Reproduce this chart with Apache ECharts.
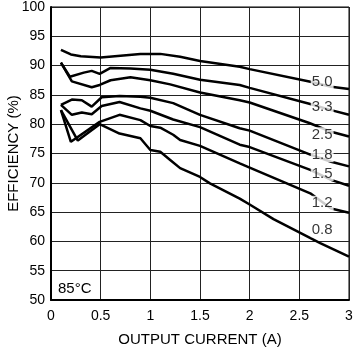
<!DOCTYPE html>
<html>
<head>
<meta charset="utf-8">
<style>
  html, body { margin: 0; padding: 0; background: #fff; }
  #chart { width: 355px; height: 353px; }
</style>
<script src="https://cdn.jsdelivr.net/npm/echarts@6/dist/echarts.min.js"></script>
</head>
<body>
<div id="chart"></div>
<script>
// efficiency vs output current, 85°C, one curve per output voltage
var outputVoltages = ['5.0', '3.3', '2.5', '1.8', '1.5', '1.2', '0.8'];

var eff5v0 = [[0.1, 92.7], [0.2, 91.9], [0.3, 91.6], [0.5, 91.4], [0.7, 91.7], [0.9, 92.0], [1.1, 92.0],
  [1.3, 91.5], [1.5, 90.8], [1.9, 89.8], [2.0, 89.4], [2.6, 87.3], [2.82, 86.4], [3.0, 86.0]];
var eff3v3 = [[0.1, 90.5], [0.19, 88.1], [0.33, 88.8], [0.41, 89.1], [0.49, 88.6], [0.6, 89.6], [0.8, 89.5],
  [1.0, 89.3], [1.23, 88.6], [1.5, 87.6], [1.9, 86.7], [2.0, 86.2], [2.6, 83.5], [2.82, 82.4], [3.0, 81.6]];
var eff2v5 = [[0.1, 90.5], [0.21, 87.3], [0.41, 86.3], [0.49, 86.7], [0.6, 87.5], [0.8, 88.0], [1.0, 87.5],
  [1.2, 86.8], [1.5, 85.4], [1.9, 84.1], [2.0, 83.7], [2.6, 80.2], [2.82, 78.7], [3.0, 77.9]];
var eff1v8 = [[0.1, 83.3], [0.21, 84.2], [0.31, 84.1], [0.41, 83.0], [0.51, 84.6], [0.69, 84.8], [0.9, 84.7],
  [1.0, 84.5], [1.23, 83.6], [1.5, 81.6], [1.9, 79.3], [2.0, 78.9], [2.61, 74.8], [2.82, 73.6], [3.0, 72.8]];
var eff1v5 = [[0.1, 83.3], [0.21, 81.6], [0.31, 82.0], [0.41, 81.7], [0.51, 83.1], [0.69, 83.8], [0.9, 82.7],
  [1.0, 82.3], [1.23, 80.8], [1.5, 79.5], [1.9, 76.5], [2.0, 76.1], [2.61, 72.2], [2.82, 70.5], [3.0, 69.5]];
var eff1v2 = [[0.1, 82.4], [0.2, 77.0], [0.49, 80.4], [0.69, 81.6], [0.9, 80.7], [1.0, 79.7], [1.1, 79.4],
  [1.23, 78.2], [1.3, 77.3], [1.5, 76.3], [1.9, 73.3], [2.0, 72.6], [2.61, 68.2], [2.82, 65.6], [3.0, 64.9]];
var eff0v8 = [[0.1, 82.4], [0.27, 77.2], [0.49, 80.0], [0.69, 78.4], [0.9, 77.6], [1.0, 75.6], [1.1, 75.3],
  [1.2, 73.9], [1.3, 72.5], [1.5, 71.0], [1.6, 69.9], [1.9, 67.3], [2.0, 66.3], [2.24, 63.8], [2.71, 59.7], [3.0, 57.4]];

var curves = [eff5v0, eff3v3, eff2v5, eff1v8, eff1v5, eff1v2, eff0v8];

// where each voltage tag sits on the plot (data units)
var labelCurrent = 2.73;
var labelEff = [87.25, 83.0, 78.2, 74.8, 71.6, 66.5, 62.0];

var xTicks = [0, 0.5, 1, 1.5, 2, 2.5, 3];
var tempNote = '85°C';

var font = '"Liberation Sans", Arial, Helvetica, sans-serif';
var ink = '#000';

var chart = echarts.init(document.getElementById('chart'), null, { renderer: 'canvas' });

var series = curves.map(function(d, i) {
  return {
    name: outputVoltages[i],
    type: 'line',
    data: d,
    symbol: 'none',
    smooth: false,
    lineStyle: { color: ink, width: 2.5 },
    z: 3
  };
});

series.push({
  type: 'scatter',
  symbolSize: 0,
  z: 5,
  data: outputVoltages.map(function(v, i) {
    return { value: [labelCurrent, labelEff[i]], name: v };
  }),
  label: {
    show: true,
    position: 'inside',
    formatter: '{b}',
    color: ink,
    fontFamily: font,
    fontSize: 15,
    backgroundColor: '#fff',
    padding: [0, 1]
  }
});

chart.setOption({
  animation: false,
  textStyle: { fontFamily: font },
  grid: {
    left: 51, right: 6, top: 7, bottom: 53,
    containLabel: false, outerBoundsMode: 'none',
    show: true, borderColor: ink, borderWidth: 1
  },
  xAxis: {
    type: 'value',
    min: 0,
    max: 3,
    interval: 0.5,
    name: 'OUTPUT CURRENT (A)',
    nameLocation: 'middle',
    nameGap: 32,
    nameMoveOverlap: false,
    nameTextStyle: { color: ink, fontSize: 15, fontFamily: font },
    axisLine: { show: true, lineStyle: { color: ink, width: 2 } },
    axisTick: { show: false },
    axisLabel: {
      color: ink, fontSize: 14, fontFamily: font, margin: 9,
      formatter: function(v) { return xTicks.indexOf(v) >= 0 ? String(v) : ''; }
    },
    splitLine: { show: true, lineStyle: { color: '#222', width: 1 } }
  },
  yAxis: {
    type: 'value',
    min: 50,
    max: 100,
    interval: 5,
    name: 'EFFICIENCY (%)',
    nameLocation: 'middle',
    nameGap: 30,
    nameMoveOverlap: false,
    nameTextStyle: { color: ink, fontSize: 15, fontFamily: font },
    axisLine: { show: true, lineStyle: { color: ink, width: 2 } },
    axisTick: { show: false },
    axisLabel: { color: ink, fontSize: 14, fontFamily: font, margin: 6 },
    splitLine: { show: true, lineStyle: { color: '#222', width: 1 } }
  },
  graphic: [{
    type: 'text',
    left: 58,
    top: 281,
    style: { text: tempNote, fill: ink, fontSize: 15, fontFamily: font }
  }],
  series: series
});
</script>
</body>
</html>
